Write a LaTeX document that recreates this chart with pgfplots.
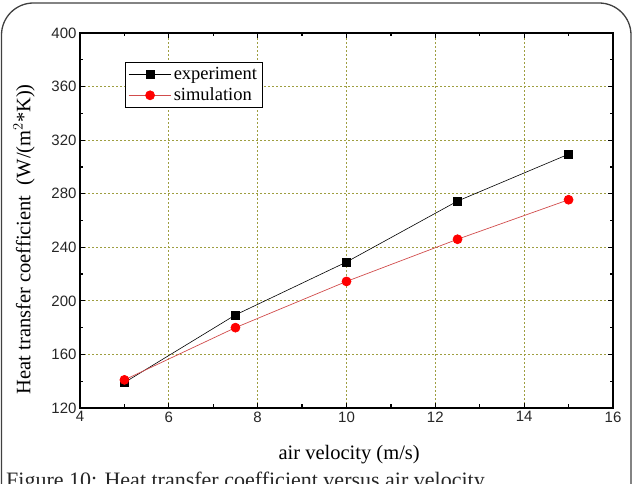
\documentclass[border=0pt]{standalone}
\usepackage{fontspec}
\setmainfont{Liberation Serif}
\setsansfont{Liberation Sans}
\usepackage{pgfplots}
\pgfplotsset{compat=1.18}
\definecolor{gridc}{rgb}{0.62,0.62,0.25}
\definecolor{simline}{rgb}{0.82,0.3,0.3}
\begin{document}
\begin{tikzpicture}[x=1pt,y=1pt]
\useasboundingbox (0,0) rectangle (637,484);
\clip (0,0) rectangle (637,484);
\draw[line width=1.3pt, color=black!75, rounded corners=32pt] (1.5,-60) -- (1.5,481) -- (631,481) -- (631,-60);
\node[anchor=north west, inner sep=0pt, text=black!85, font=\fontsize{22}{24}\selectfont] at (6,12) {Figure 10: Heat transfer coefficient versus air velocity.};
\begin{axis}[
  at={(80pt,76pt)}, anchor=south west, scale only axis,
  width=533pt, height=375pt,
  xmin=4, xmax=16, ymin=120, ymax=400,
  xtick={4,6,...,16}, ytick={120,160,...,400},
  minor x tick num=1, minor y tick num=1,
  tick align=inside,
  major tick length=5pt, minor tick length=3.5pt,
  every tick/.style={black, line width=1.2pt},
  axis line style={black, line width=1.4pt},
  grid=major,
  major grid style={gridc, line width=0.8pt, dash pattern=on 2pt off 2pt},
  /pgf/number format/assume math mode=true,
  tick label style={font=\fontsize{15}{18}\selectfont\sffamily, text=black!85},
  xlabel={air velocity (m/s)},
  ylabel={Heat transfer coefficient \ (W/(m$^{2}$*K))},
  label style={font=\fontsize{20.5}{24}\selectfont},
  xlabel style={at={(axis description cs:0.505,-0.125)}, anchor=center},
  ylabel style={at={(axis description cs:-0.105,0.45)}, anchor=center},
  legend style={at={(0.0844,0.9227)}, anchor=north west, draw=black, line width=0.8pt,
    font=\fontsize{18.5}{20}\selectfont, inner xsep=3pt, inner ysep=3pt, row sep=3pt},
  legend cell align=left,
  legend image code/.code={\draw[#1, mark repeat=2, mark phase=2] plot coordinates {(0cm,0cm) (0.75cm,0cm) (1.5cm,0cm)};},
]
\addplot[black, line width=0.6pt, mark=square*, mark size=4pt, mark options={solid, fill=black}]
  coordinates {(5,139) (7.5,189.5) (10,229) (12.5,274.5) (15,309.5)};
\addlegendentry{experiment}
\addplot[simline, line width=0.7pt, mark=*, mark size=4.5pt, mark options={solid, fill=red, draw=red}]
  coordinates {(5,141) (7.5,180) (10,214.5) (12.5,246) (15,275.5)};
\addlegendentry{simulation}
\end{axis}
\end{tikzpicture}
\end{document}
